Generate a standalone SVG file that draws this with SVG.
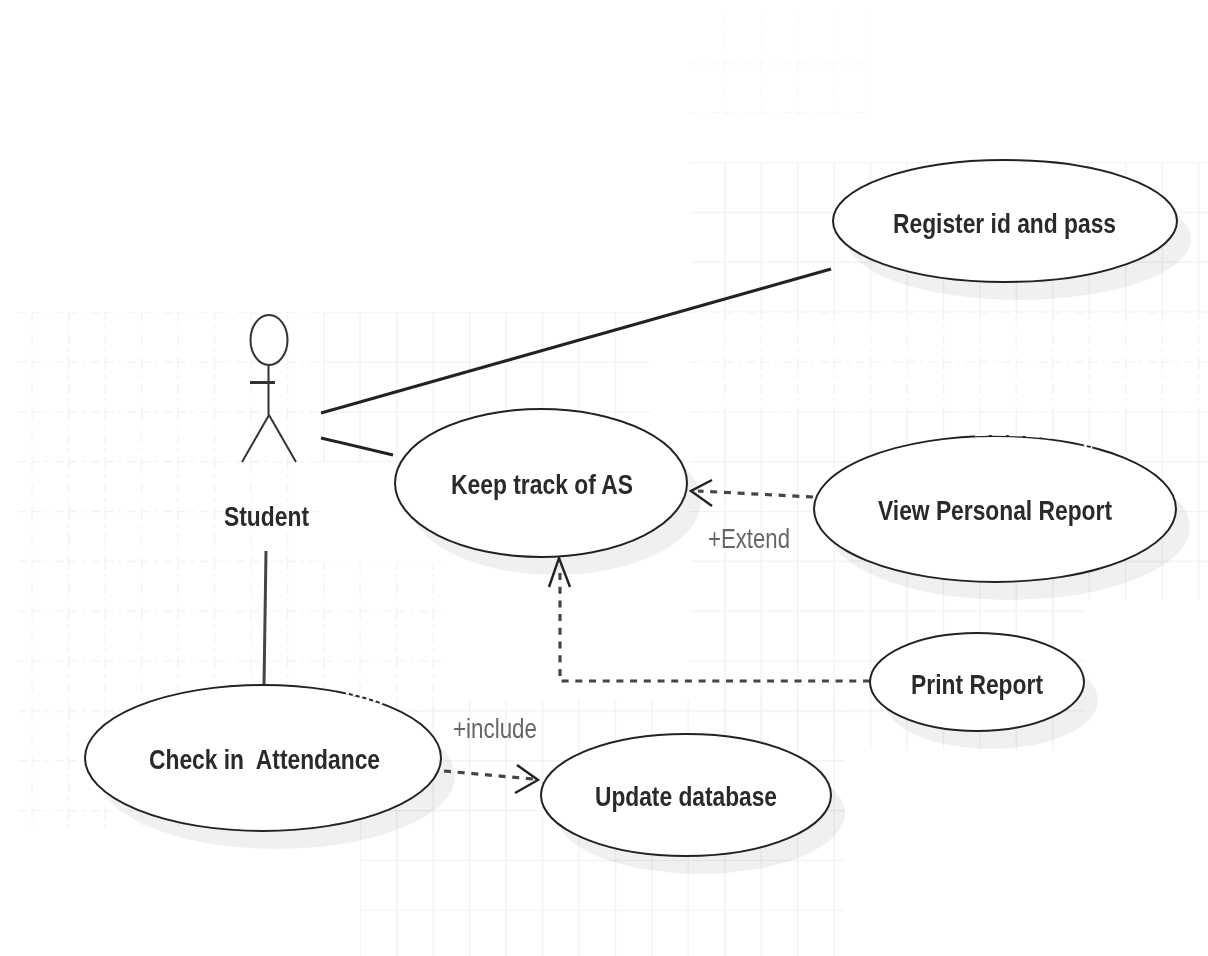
<svg xmlns="http://www.w3.org/2000/svg" width="1208" height="956" viewBox="0 0 1208 956">
<defs>
<filter id="soft" x="-10%" y="-10%" width="120%" height="120%"><feGaussianBlur stdDeviation="0.65"/></filter>
<filter id="gb" x="0" y="0" width="100%" height="100%"><feGaussianBlur stdDeviation="0.5"/></filter>
<pattern id="g" x="31.5" y="12.4" width="36.45" height="49.85" patternUnits="userSpaceOnUse"><path d="M0.5 0V49.85M0 0.5H36.45" fill="none" stroke="#f1f1f1" stroke-width="1.6"/></pattern>
<pattern id="b" x="31.5" y="12.4" width="36.45" height="49.85" patternUnits="userSpaceOnUse"><path d="M0.5 0V49.85M0 0.5H36.45" fill="none" stroke="#f1f1f1" stroke-width="1.6" stroke-dasharray="9 5 3 6"/></pattern>
</defs>
<style>
.use{fill:#fff;stroke:#222;stroke-width:2}
.sh{fill:#000;fill-opacity:.06}
.t{font-family:"Liberation Sans",Arial,sans-serif;font-weight:700;font-size:28px;fill:#2b2b2b}
.l{font-family:"Liberation Sans",Arial,sans-serif;font-size:28px;fill:#666}
.c{fill:none;stroke:#222;stroke-width:3}
.d{fill:none;stroke:#444;stroke-width:3.2;stroke-dasharray:7 6.7}
.h{fill:none;stroke:#222;stroke-width:2.4}
.a{fill:none;stroke:#333;stroke-width:2}
.w{fill:none;stroke:#fff;stroke-width:2.6;stroke-dasharray:3 4}
</style>
<rect width="1208" height="956" fill="#fff"/>
<g id="grid" filter="url(#gb)">
<rect x="13" y="312" width="310" height="250" fill="url(#b)"/>
<rect x="323" y="312" width="327" height="150" fill="url(#g)"/>
<rect x="13" y="562" width="347" height="270" fill="url(#b)"/>
<rect x="360" y="562" width="85" height="270" fill="url(#b)"/>
<rect x="360" y="700" width="485" height="256" fill="url(#g)"/>
<rect x="690" y="15" width="180" height="100" fill="url(#b)" opacity="0.55"/>
<rect x="690" y="162" width="518" height="150" fill="url(#g)"/>
<rect x="690" y="312" width="518" height="100" fill="url(#b)"/>
<rect x="690" y="412" width="518" height="188" fill="url(#g)"/>
<rect x="690" y="600" width="395" height="150" fill="url(#g)"/>
</g>
<g id="shadows" filter="url(#soft)">
<ellipse class="sh" cx="1019" cy="239" rx="172" ry="61"/>
<ellipse class="sh" cx="555" cy="501" rx="146" ry="74"/>
<ellipse class="sh" cx="1009" cy="527" rx="181" ry="73"/>
<ellipse class="sh" cx="991" cy="700" rx="107" ry="49"/>
<ellipse class="sh" cx="277" cy="776" rx="178" ry="73"/>
<ellipse class="sh" cx="700" cy="813" rx="145" ry="61"/>
</g>
<g id="connectors" filter="url(#soft)">
<line class="c" x1="321" y1="413" x2="831" y2="269"/>
<line class="c" x1="321" y1="438" x2="393" y2="455"/>
<line class="c" x1="266" y1="551" x2="264" y2="686" style="stroke:#444"/>
<path class="d" d="M813 497L698 491"/>
<path class="h" d="M712 480L691 491L712 506"/>
<path class="d" d="M870 681H560V566"/>
<path class="h" d="M549 587L559 558L570 587"/>
<path class="d" d="M444 771L533 779"/>
<path class="h" d="M517 765L538 780L515 793"/>
</g>
<g id="student" filter="url(#soft)">
<ellipse class="a" cx="269" cy="340" rx="18.5" ry="25" fill="#fff"/>
<path class="a" d="M268.500 365V415M269 415L242 462M269 415L296 462"/>
<path class="a" style="stroke-width:3" d="M250 382.500H275"/>
<text class="t" x="224" y="526" textLength="85" lengthAdjust="spacingAndGlyphs">Student</text>
</g>
<g id="register" filter="url(#soft)"><ellipse class="use" cx="1005" cy="221" rx="172" ry="61"/><text class="t" x="893" y="233" textLength="223" lengthAdjust="spacingAndGlyphs">Register id and pass</text></g>
<g id="keep" filter="url(#soft)"><ellipse class="use" cx="541" cy="483" rx="146" ry="74"/><text class="t" x="451" y="494" textLength="182" lengthAdjust="spacingAndGlyphs">Keep track of AS</text></g>
<g id="view" filter="url(#soft)"><ellipse class="use" cx="995" cy="509" rx="181" ry="73"/><text class="t" x="878" y="520" textLength="234" lengthAdjust="spacingAndGlyphs">View Personal Report</text></g>
<g id="print" filter="url(#soft)"><ellipse class="use" cx="977" cy="682" rx="107" ry="49"/><text class="t" x="911" y="694" textLength="132" lengthAdjust="spacingAndGlyphs">Print Report</text></g>
<g id="check" filter="url(#soft)"><ellipse class="use" cx="263" cy="758" rx="178" ry="73"/><text class="t" x="149" y="769" textLength="231" lengthAdjust="spacingAndGlyphs" xml:space="preserve">Check in  Attendance</text></g>
<g id="update" filter="url(#soft)"><ellipse class="use" cx="686" cy="795" rx="145" ry="61"/><text class="t" x="595" y="806" textLength="182" lengthAdjust="spacingAndGlyphs">Update database</text></g>
<g id="gaps">
<path class="w" d="M346 693Q365 697 384 704"/>
<path class="w" d="M1084 445L1092 448"/>
<path class="w" style="stroke-width:1.4;stroke-dasharray:14 3" d="M975 435.500Q1010 434 1050 438"/>
</g>
<g id="labels" filter="url(#soft)">
<text class="l" x="708" y="548" textLength="82" lengthAdjust="spacingAndGlyphs">+Extend</text>
<text class="l" x="453" y="738" textLength="84" lengthAdjust="spacingAndGlyphs">+include</text>
</g>
</svg>
